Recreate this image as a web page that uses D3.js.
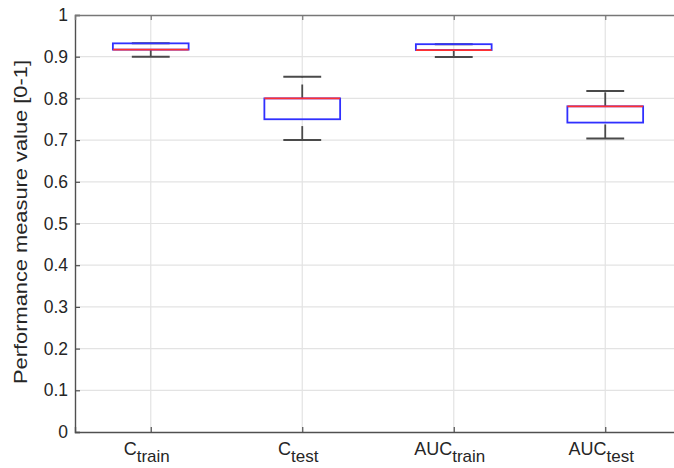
<!DOCTYPE html>
<html>
<head>
<meta charset="utf-8">
<script src="https://cdn.jsdelivr.net/npm/d3@7"></script>
<style>
body { margin:0; background:#fff; }
text { font-family: "Liberation Sans", Arial, sans-serif; fill:#262626; }
</style>
</head>
<body>
<div id="chart"></div>
<script>
// boxplot stats
const mainLabels = ['C', 'C', 'AUC', 'AUC'];
const subLabels = ['train', 'test', 'train', 'test'];
const lowerWhisker = [0.900, 0.700, 0.899, 0.704];
const q1 = [0.917, 0.750, 0.916, 0.742];
const medians = [0.917, 0.800, 0.916, 0.781];
const q3 = [0.932, 0.800, 0.930, 0.781];
const upperWhisker = [0.932, 0.852, 0.930, 0.818];
const yTicks = [0, 0.1, 0.2, 0.3, 0.4, 0.5, 0.6, 0.7, 0.8, 0.9, 1];

const width = 674, height = 468;
const margin = {left:75, top:15, bottom:36};
const step = 151.5;

const svg = d3.select('#chart')
.append('svg')
.attr('width', width)
.attr('height', height);

const x = d3.scaleLinear()
.domain([0.5, 4.5])
.range([margin.left, margin.left + 4 * step]);

const y = d3.scaleLinear()
.domain([0, 1])
.range([height - margin.bottom, margin.top]);

const boxes = mainLabels.map((d, i) => ({
	pos: i + 1, main: d, sub: subLabels[i],
	lo: lowerWhisker[i], q1: q1[i], med: medians[i], q3: q3[i], hi: upperWhisker[i]
}));

// grid
const grid = svg.append('g').attr('class', 'grid');
grid.selectAll('line.h')
.data(yTicks.slice(1, -1))
.enter()
.append('line')
.attr('x1', x(0.5)).attr('x2', x(4.5))
.attr('y1', d => y(d)).attr('y2', d => y(d))
.attr('stroke', '#e3e3e3').attr('stroke-width', 1.2);

grid.selectAll('line.v')
.data(boxes)
.enter()
.append('line')
.attr('x1', d => x(d.pos)).attr('x2', d => x(d.pos))
.attr('y1', y(0)).attr('y2', y(1))
.attr('stroke', '#e3e3e3').attr('stroke-width', 1.2);

// boxes
const halfBox = step * 0.25, halfCap = step * 0.125;
const whiskerColor = '#4a4a4a';
const bx = svg.append('g').selectAll('g')
.data(boxes)
.enter()
.append('g');

// whiskers drawn bottom-up so the dashes start low, like the original
bx.append('line')
.attr('x1', d => x(d.pos)).attr('x2', d => x(d.pos))
.attr('y1', d => y(d.q3)).attr('y2', d => y(d.hi))
.attr('stroke', whiskerColor).attr('stroke-width', 1.8)
.attr('stroke-dasharray', '14,7');

bx.append('line')
.attr('x1', d => x(d.pos)).attr('x2', d => x(d.pos))
.attr('y1', d => y(d.lo)).attr('y2', d => y(d.q1))
.attr('stroke', whiskerColor).attr('stroke-width', 1.8)
.attr('stroke-dasharray', '14,7');

bx.append('line')
.attr('x1', d => x(d.pos) - halfCap).attr('x2', d => x(d.pos) + halfCap)
.attr('y1', d => y(d.hi)).attr('y2', d => y(d.hi))
.attr('stroke', whiskerColor).attr('stroke-width', 2);

bx.append('line')
.attr('x1', d => x(d.pos) - halfCap).attr('x2', d => x(d.pos) + halfCap)
.attr('y1', d => y(d.lo)).attr('y2', d => y(d.lo))
.attr('stroke', whiskerColor).attr('stroke-width', 2);

bx.append('rect')
.attr('x', d => x(d.pos) - halfBox)
.attr('width', halfBox * 2)
.attr('y', d => y(d.q3))
.attr('height', d => y(d.q1) - y(d.q3))
.attr('fill', 'none')
.attr('stroke', '#3030ff').attr('stroke-width', 1.8);

bx.append('line')
.attr('x1', d => x(d.pos) - halfBox).attr('x2', d => x(d.pos) + halfBox)
.attr('y1', d => y(d.med)).attr('y2', d => y(d.med))
.attr('stroke', '#ff3030').attr('stroke-width', 1.8);

// axes
const axisColor = '#505050';

svg.append('g')
.attr('transform', `translate(${margin.left},0)`)
.call(d3.axisLeft(y).tickValues(yTicks).tickSize(-5).tickPadding(7).tickFormat(d3.format('~g')))
.call(g => g.select('.domain').attr('stroke', axisColor).attr('stroke-width', 1.4))
.call(g => g.selectAll('.tick line').attr('stroke', axisColor).attr('stroke-width', 1.2))
.call(g => g.selectAll('.tick text').attr('font-size', 17.5).attr('fill', '#262626')
	.attr('font-family', '"Liberation Sans", Arial, sans-serif'));

svg.append('g')
.attr('transform', `translate(0,${y(0)})`)
.call(d3.axisBottom(x).tickValues(boxes.map(d => d.pos)).tickSize(-5).tickFormat(''))
.call(g => g.select('.domain').attr('stroke', axisColor).attr('stroke-width', 1.4))
.call(g => g.selectAll('.tick line').attr('stroke', axisColor).attr('stroke-width', 1.2));

svg.append('g')
.attr('transform', `translate(0,${y(1)})`)
.call(d3.axisTop(x).tickValues(boxes.map(d => d.pos)).tickSize(-5).tickFormat(''))
.call(g => g.select('.domain').attr('stroke', '#777').attr('stroke-width', 1.4))
.call(g => g.selectAll('.tick line').attr('stroke', '#777').attr('stroke-width', 1.2));

// category labels with subscripts
const lab = svg.append('g').selectAll('text')
.data(boxes)
.enter()
.append('text')
.attr('x', d => x(d.pos) - 4)
.attr('y', 455)
.attr('text-anchor', 'middle');

lab.append('tspan')
.attr('font-size', 18)
.text(d => d.main);

lab.append('tspan')
.attr('font-size', 17)
.attr('dy', 7)
.text(d => d.sub);

// y label
svg.append('text')
.attr('transform', 'translate(27,222) rotate(-90)')
.attr('text-anchor', 'middle')
.attr('font-size', 18)
.attr('textLength', 324)
.attr('lengthAdjust', 'spacingAndGlyphs')
.text('Performance measure value [0-1]');
</script>
</body>
</html>
